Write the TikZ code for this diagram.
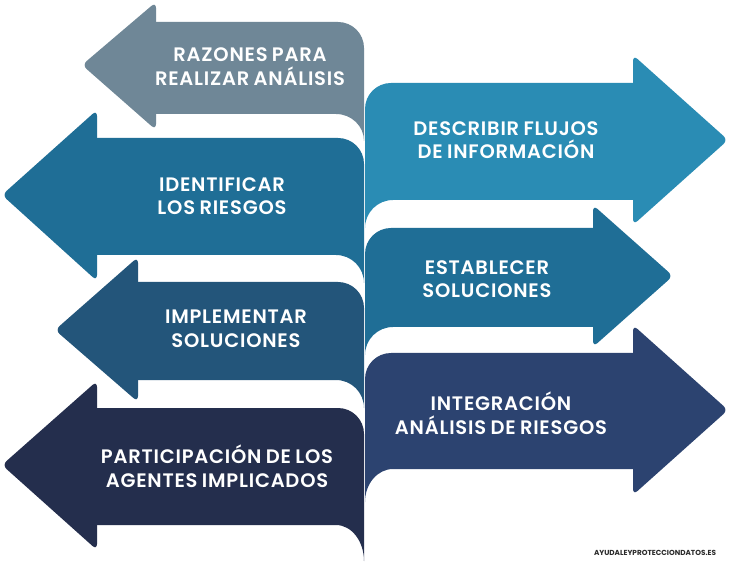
\documentclass[tikz,border=0pt]{standalone}
\usepackage{fontspec}
\setmainfont{Poppins}
\newfontfamily\lblfont{Poppins}[UprightFont=* SemiBold, LetterSpace=4, WordSpace=0.8]
\definecolor{cgray}{HTML}{6F8797}
\definecolor{cone}{HTML}{2A8CB4}
\definecolor{ctwo}{HTML}{1F6E96}
\definecolor{cthree}{HTML}{23557A}
\definecolor{cfour}{HTML}{2C4370}
\definecolor{cfive}{HTML}{242E4D}
\definecolor{cmark}{HTML}{2A2A2A}
% left arrow: #1 tip x, #2 mid y, #3 neck x, #4 head top, #5 head bottom, #6 body top, #7 body bottom, #8 tail, #9 colour
\newcommand\larrowpath[9]{%
  \fill[#9, rounded corners=6pt] (#3+1,#4) -- (#1,#2) -- (#3+1,#5) -- cycle;
  \fill[#9] (#3,#6) -- (#3,#7) -- (336,#7) .. controls (351.5,#7) and (364,#7+#8*0.448) .. (364,#7+#8)
     -- (364,#6+26) .. controls (364,#6+11.6) and (352.4,#6) .. (338,#6) -- cycle;}
\newcommand\rarrowpath[9]{%
  \fill[#9, rounded corners=6pt] (#3-1,#4) -- (#1,#2) -- (#3-1,#5) -- cycle;
  \fill[#9] (#3,#6) -- (#3,#7) -- (393,#7) .. controls (377.5,#7) and (365,#7+#8*0.448) .. (365,#7+#8)
     -- (365,#6+26) .. controls (365,#6+11.6) and (376.6,#6) .. (391,#6) -- cycle;}
\tikzset{arrowlabel/.style={text=white, align=center, inner sep=0pt,
  font=\lblfont\fontsize{19.5}{23.5}\selectfont}}
\begin{document}
\begin{tikzpicture}[x=1pt,y=-1pt]
\useasboundingbox (0,0) rectangle (729,564);
\fill[white] (0,0) rectangle (729,564);
\larrowpath{82}{65}{155}{2}{130}{22}{114}{27}{cgray}
\larrowpath{2}{195}{96}{110}{281}{138}{255}{28}{ctwo}
\larrowpath{55}{330}{137}{257}{402}{282}{380}{28}{cthree}
\larrowpath{2}{465}{96}{381}{550}{408}{525}{36}{cfive}
\rarrowpath{728}{140}{634}{55}{225}{83}{200}{28}{cone}
\rarrowpath{673}{276}{594}{205}{347}{228}{327}{28}{ctwo}
\rarrowpath{728}{410}{634}{325}{495}{353}{469}{33}{cfour}
\node[arrowlabel] (t1) at (250,66.5) {RAZONES PARA\\REALIZAR ANÁLISIS};
\node[arrowlabel] (t2) at (222,196) {IDENTIFICAR\\LOS RIESGOS};
\node[arrowlabel] (t3) at (236,329) {IMPLEMENTAR\\SOLUCIONES};
\node[arrowlabel] (t4) at (217,466) {PARTICIPACIÓN DE LOS\\AGENTES IMPLICADOS};
\node[arrowlabel] (t5) at (506,140) {DESCRIBIR FLUJOS\\DE INFORMACIÓN};
\node[arrowlabel] (t6) at (487,279) {ESTABLECER\\SOLUCIONES};
\node[arrowlabel] (t7) at (501,413) {INTEGRACIÓN\\ANÁLISIS DE RIESGOS};
\node[text=cmark, inner sep=0pt, font=\fontsize{7.3}{8}\selectfont\bfseries] (mark) at (655,553) {AYUDALEYPROTECCIONDATOS.ES};
\end{tikzpicture}
\end{document}
